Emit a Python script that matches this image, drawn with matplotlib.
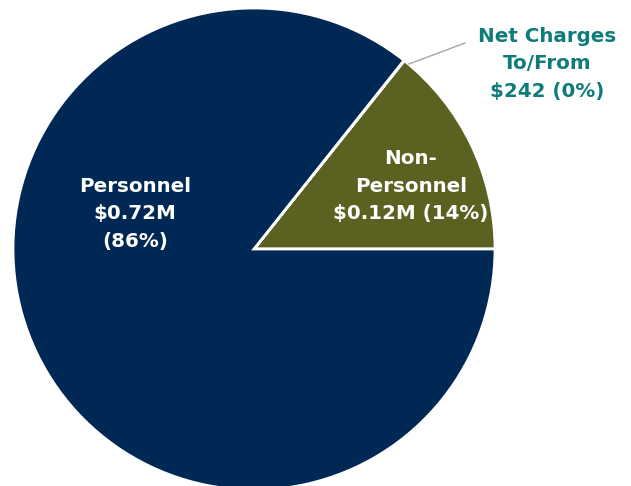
import matplotlib
matplotlib.use("Agg")
import matplotlib.pyplot as plt

categories = ["Non-Personnel", "Net Charges To/From", "Personnel"]
values = [0.12e6, 242, 0.72e6]
colors = ["#5B6120", "#0E7C7B", "#002855"]
labels = ["Non-\nPersonnel\n$0.12M (14%)", "Net Charges\nTo/From\n$242 (0%)", "Personnel\n$0.72M\n(86%)"]

W, H = 631, 486
fig = plt.figure(figsize=(W / 100, H / 100), dpi=100)
ax = fig.add_axes([0, 0, 1, 1])
cx, cy, r = 254, H - 249, 241
ax.pie(values, colors=colors, startangle=0, counterclock=True,
       center=(cx, cy), radius=r,
       wedgeprops=dict(edgecolor="white", linewidth=2))
ax.set_xlim(0, W)
ax.set_ylim(0, H)
ax.set_aspect("equal")
ax.axis("off")

font = dict(family="DejaVu Sans", weight="bold", fontsize=14.3, linespacing=1.55,
            ha="center", va="center")
ax.text(135, H - 214, labels[2], color="white", **font)
ax.text(411, H - 186, labels[0], color="white", **font)
ax.text(547, H - 64, labels[1], color="#0E7C7B", **font)
ax.plot([409, 465], [H - 64, H - 43], color="#A6A6A6", lw=1)

fig.savefig("out.png", dpi=100)
